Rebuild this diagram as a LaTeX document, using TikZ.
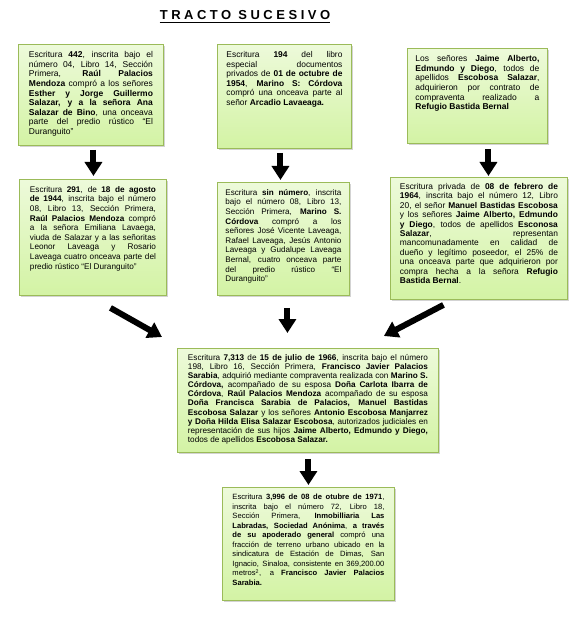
\documentclass[tikz,border=0pt]{standalone}
\usepackage{fontspec}
\setmainfont{Liberation Sans}
\usetikzlibrary{arrows.meta,shadows}

\definecolor{verdeclaro}{HTML}{EDFADA}
\definecolor{verdecaja}{HTML}{D3F3A4}
\definecolor{bordecaja}{HTML}{9BBB59}

\newcommand{\texto}[3]{\parbox[t][#2][t]{#1}{\tolerance=10000 #3}}

\begin{document}
\begin{tikzpicture}
		[x = 1pt, y = -1pt,
		caja/.style = {draw = bordecaja, line width = 0.9pt, top color = verdeclaro,
			bottom color = verdecaja, anchor = north west, inner sep = 0pt,
			drop shadow = {opacity = 0.35, shadow xshift = 1.5pt, shadow yshift = -1.5pt},
			font = \fontsize{8.5}{9.6}\selectfont},
		flecha/.style = {line width = 6pt, -{Triangle[width = 17pt, length = 14pt]}}]
		\useasboundingbox (0, 0) rectangle (578, 617);

		% titulo
		\node[font = \bfseries\fontsize{13}{15}\selectfont\addfontfeature{LetterSpace=27},
			inner sep = 0pt, anchor = base] (titulo) at (245, 20) {TRACTO SUCESIVO};
		\draw[line width = 1.6pt] ([yshift = -2.5pt]titulo.base west) -- ([yshift = -2.5pt]titulo.base east);

		% primera fila
		\node[caja, minimum width = 145pt, minimum height = 101pt] (e1) at (18, 44)
			{\texto{124pt}{87pt}{Escritura \textbf{442}, inscrita bajo el\linebreak
			número 04, Libro 14, Sección\linebreak
			Primera, \textbf{Raúl Palacios}\linebreak
			\textbf{Mendoza} compró a los señores\linebreak
			\textbf{Esther y Jorge Guillermo}\linebreak
			\textbf{Salazar, y a la señora Ana}\linebreak
			\textbf{Salazar de Bino}, una onceava\linebreak
			parte del predio rústico “El\linebreak
			Duranguito”}};
		\node[caja, minimum width = 134pt, minimum height = 104pt,
			font = \fontsize{8.4}{9.6}\selectfont] (e2) at (217, 44)
			{\texto{116pt}{90pt}{Escritura \textbf{194} del libro\linebreak
			especial documentos\linebreak
			privados de \textbf{01 de octubre de}\linebreak
			\textbf{1954}, \textbf{Marino S: Córdova}\linebreak
			compró una onceava parte al\linebreak
			señor \textbf{Arcadio Lavaeaga.}}};
		\node[caja, minimum width = 140pt, minimum height = 95pt] (e3) at (407, 48)
			{\texto{124pt}{81pt}{Los señores \textbf{Jaime Alberto,}\linebreak
			\textbf{Edmundo y Diego}, todos de\linebreak
			apellidos \textbf{Escobosa Salazar},\linebreak
			adquirieron por contrato de\linebreak
			compraventa realizado a\linebreak
			\textbf{Refugio Bastida Bernal}}};

		% segunda fila
		\node[caja, minimum width = 147pt, minimum height = 116pt,
			font = \fontsize{8.2}{9.6}\selectfont] (e4) at (19, 179)
			{\texto{126pt}{102pt}{Escritura \textbf{291}, de \textbf{18 de agosto}\linebreak
			\textbf{de 1944}, inscrita bajo el número\linebreak
			08, Libro 13, Sección Primera,\linebreak
			\textbf{Raúl Palacios Mendoza} compró\linebreak
			a la señora Emiliana Lavaega,\linebreak
			viuda de Salazar y a las señoritas\linebreak
			Leonor Laveaga y Rosario\linebreak
			Laveaga cuatro onceava parte del\linebreak
			predio rústico “El Duranguito”}};
		\node[caja, minimum width = 132pt, minimum height = 113pt,
			font = \fontsize{8.1}{9.6}\selectfont] (e5) at (217, 182)
			{\texto{116pt}{99pt}{Escritura \textbf{sin número}, inscrita\linebreak
			bajo el número 08, Libro 13,\linebreak
			Sección Primera, \textbf{Marino S.}\linebreak
			\textbf{Córdova} compró a los\linebreak
			señores José Vicente Laveaga,\linebreak
			Rafael Laveaga, Jesús Antonio\linebreak
			Laveaga y Gudalupe Laveaga\linebreak
			Bernal, cuatro onceava parte\linebreak
			del predio rústico “El\linebreak
			Duranguito”}};
		\node[caja, minimum width = 177pt, minimum height = 122pt,
			font = \fontsize{8.4}{9.4}\selectfont] (e6) at (390, 177)
			{\texto{158pt}{110pt}{Escritura privada de \textbf{08 de febrero de}\linebreak
			\textbf{1964}, inscrita bajo el número 12, Libro\linebreak
			20, el señor \textbf{Manuel Bastidas Escobosa}\linebreak
			y los señores \textbf{Jaime Alberto, Edmundo}\linebreak
			\textbf{y Diego}, todos de apellidos \textbf{Esconosa}\linebreak
			\textbf{Salazar}, representan\linebreak
			mancomunadamente en calidad de\linebreak
			dueño y legítimo poseedor, el 25\% de\linebreak
			una onceava parte que adquirieron por\linebreak
			compra hecha a la señora \textbf{Refugio}\linebreak
			\textbf{Bastida Bernal}.}};

		% tercera fila
		\node[caja, minimum width = 261pt, minimum height = 104pt,
			font = \fontsize{8.2}{9.1}\selectfont] (e7) at (177, 348)
			{\texto{240pt}{92pt}{Escritura \textbf{7,313} de \textbf{15 de julio de 1966}, inscrita bajo el número\linebreak
			198, Libro 16, Sección Primera, \textbf{Francisco Javier Palacios}\linebreak
			\textbf{Sarabia}, adquirió mediante compraventa realizada con \textbf{Marino S.}\linebreak
			\textbf{Córdova,} acompañado de su esposa \textbf{Doña Carlota Ibarra de}\linebreak
			\textbf{Córdova}, \textbf{Raúl Palacios Mendoza} acompañado de su esposa\linebreak
			\textbf{Doña Francisca Sarabia de Palacios, Manuel Bastidas}\linebreak
			\textbf{Escobosa Salazar} y los señores \textbf{Antonio Escobosa Manjarrez}\linebreak
			\textbf{y Doña Hilda Elisa Salazar Escobosa}, autorizados judiciales en\linebreak
			representación de sus hijos \textbf{Jaime Alberto, Edmundo y Diego,}\linebreak
			todos de apellidos \textbf{Escobosa Salazar.}}};

		% cuarta fila
		\node[caja, minimum width = 172pt, minimum height = 113pt,
			font = \fontsize{7.6}{9.5}\selectfont] (e8) at (222, 487)
			{\texto{152pt}{99pt}{Escritura \textbf{3,996 de 08 de otubre de 1971},\linebreak
			inscrita bajo el número 72, Libro 18,\linebreak
			Sección Primera, \textbf{Inmobilliaria Las}\linebreak
			\textbf{Labradas, Sociedad Anónima}, \textbf{a través}\linebreak
			\textbf{de su apoderado general} compró una\linebreak
			fracción de terreno urbano ubicado en la\linebreak
			sindicatura de Estación de Dimas, San\linebreak
			Ignacio, Sinaloa, consistente en 369,200.00\linebreak
			metros\textsuperscript{2}, a \textbf{Francisco Javier Palacios}\linebreak
			\textbf{Sarabia.}}};

		% flechas
		\draw[flecha] ([xshift = 2.5pt, yshift = -4pt]e1.south) -- ([xshift = 0.5pt, yshift = 3pt]e4.north);
		\draw[flecha] ([xshift = -4pt, yshift = -4pt]e2.south) -- ([xshift = -3pt, yshift = 2pt]e5.north);
		\draw[flecha] ([xshift = 11pt, yshift = -5pt]e3.south) -- ([xshift = 9.5pt, yshift = 1pt]e6.north);
		\draw[flecha] ([xshift = 17.5pt, yshift = -12pt]e4.south) -- ([xshift = -15pt, yshift = 11pt]e7.north west);
		\draw[flecha] ([xshift = 4pt, yshift = -12pt]e5.south) -- ([xshift = -20.5pt, yshift = 15pt]e7.north);
		\draw[flecha] ([xshift = -35.5pt, yshift = -5pt]e6.south) -- ([xshift = -55pt, yshift = 12pt]e7.north east);
		\draw[flecha] ([xshift = 0.5pt, yshift = -6pt]e7.south) -- ([yshift = 2pt]e8.north);
	\end{tikzpicture}
\end{document}
